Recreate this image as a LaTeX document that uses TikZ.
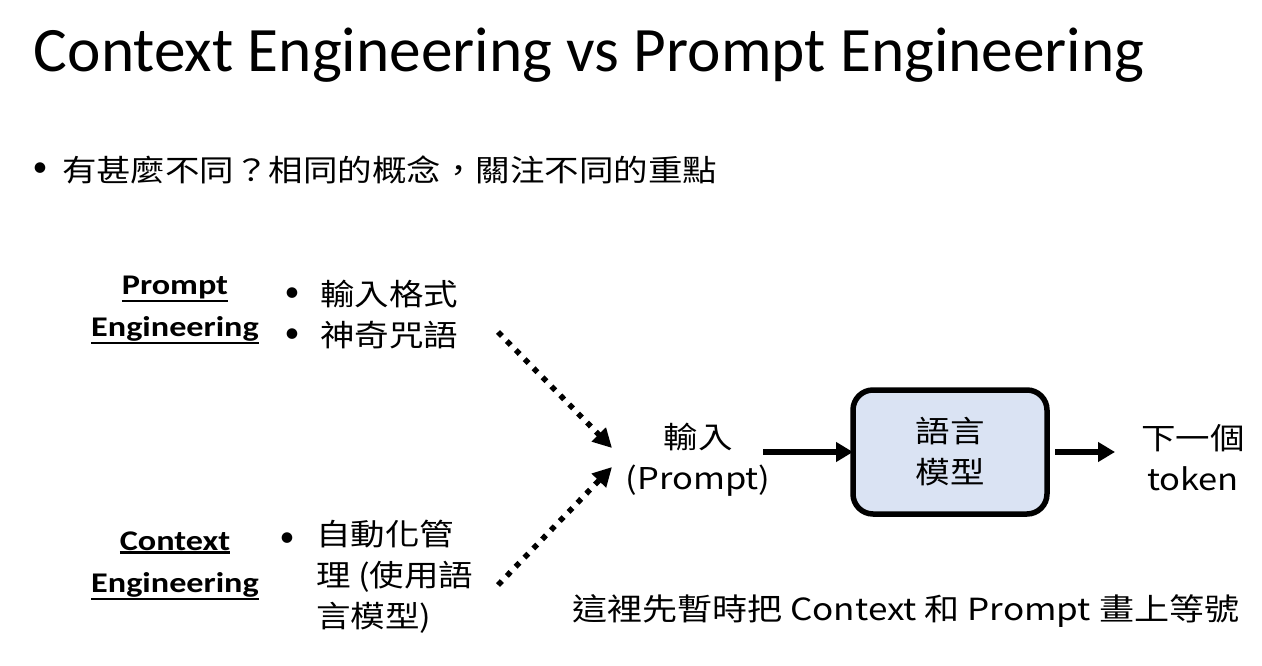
\documentclass[tikz,border=0pt]{standalone}
\usepackage{fontspec}
\setmainfont{Carlito}
\newfontfamily\cjk{Noto Sans CJK TC}[FakeStretch=1.15]
\newfontfamily\lblfont{Carlito}[FakeStretch=1.2]
\usetikzlibrary{arrows.meta}
\definecolor{boxfill}{HTML}{DAE3F3}
\newcommand\myul[1]{\setbox0\hbox{#1}\rlap{\rule[\dimexpr-\dp0-3.2pt\relax]{\wd0}{2.3pt}}\box0}
\begin{document}
\begin{tikzpicture}[x=1pt,y=-1pt,
  every node/.style={inner sep=0pt, outer sep=0pt},
  cjktext/.style={font=\cjk\fontsize{30}{41}\selectfont, align=center},
  bullettext/.style={font=\fontsize{30}{41}\selectfont},
  labeltext/.style={font=\lblfont\bfseries\fontsize{28.5}{42}\selectfont, align=center},
  solidarrow/.style={line width=5.5pt, -{Triangle[length=17pt,width=19pt]}},
  dotarrow/.style={line width=5.5pt, dash pattern=on 5.5pt off 7.2pt, -{Triangle[length=19pt,width=19pt]}},
  modelbox/.style={draw, line width=5.5pt, fill=boxfill, rounded corners=20pt, minimum width=194pt, minimum height=124pt}
]
\useasboundingbox (0,0) rectangle (1262,666);
\node[anchor=base west, font=\fontsize{63.3}{70}\selectfont] (title) at (34,72) {Context Engineering vs Prompt Engineering};
\node[bullettext] (qb) at (40,170) {•};
\node[anchor=west, cjktext] (q) at (62,170) {有甚麼不同？相同的概念，關注不同的重點};

\node[labeltext] (pe) at (175,310) {\myul{Prompt}\\\myul{Engineering}};
\node[bullettext] (pb1) at (292,295) {•};
\node[bullettext] (pb2) at (292,336) {•};
\node[anchor=west, cjktext] (pel1) at (320,294) {輸入格式};
\node[anchor=west, cjktext] (pel2) at (320,335) {神奇咒語};

\node[labeltext] (ce) at (175,566) {\myul{Context}\\\myul{Engineering}};
\node[bullettext] (cb) at (287,540) {•};
\node[anchor=north west, cjktext, align=left] (cel) at (316,520) {自動化管\\理 (使用語\\言模型)};

\node[cjktext] (in) at (698,460) {輸入\\(Prompt)};
\node[modelbox] (lm) at (950,452) {};
\node[cjktext] at (lm) {語言\\模型};
\node[cjktext] (out) at (1193,458) {下一個\\token};

\coordinate (pestart) at (498,332);
\coordinate (cestart) at (498,585);
\coordinate (intop) at (612,448);
\coordinate (inbot) at (612,467);
\draw[dotarrow] (pestart) -- (intop);
\draw[dotarrow] (cestart) -- (inbot);
\draw[solidarrow] (in.east |- lm.west) ++(-7pt,0) coordinate (a1) -- (lm.west);
\draw[solidarrow] (lm.east) ++(8pt,0) -- ++(60pt,0);

\node[anchor=west, font=\cjk\fontsize{30.5}{41}\selectfont] (note) at (572,611) {這裡先暫時把 Context 和 Prompt 畫上等號};
\end{tikzpicture}
\end{document}
